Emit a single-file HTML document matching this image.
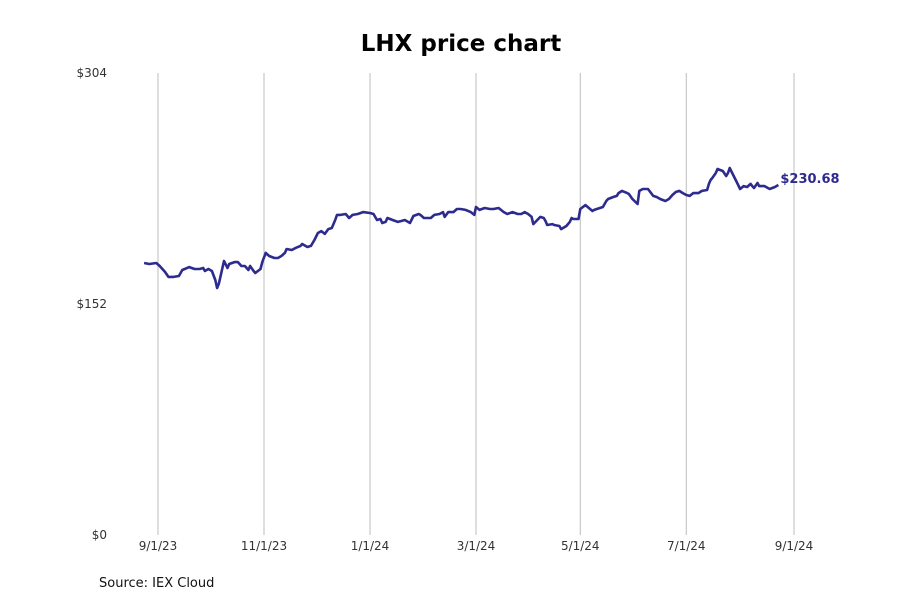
<!DOCTYPE html>
<html><head><meta charset="utf-8"><style>
body{margin:0;background:#fff;font-family:"Liberation Sans","DejaVu Sans",sans-serif}
svg text{font-family:"DejaVu Sans","Liberation Sans",sans-serif}
</style></head><body>
<svg id="chart" width="900" height="600">
<text x="461" y="51" text-anchor="middle" font-size="23" font-weight="bold" fill="#000">LHX price chart</text>
<text x="99" y="587" font-size="13" fill="#111">Source: IEX Cloud</text>
<g id="grid"></g><g id="yaxis"></g><g id="xaxis"></g><g id="series"></g>
</svg>
<script>
// days since 2023-09-01
const days=[-8,-5,-1,1,4,6,9,12,14,18,21,24,26,27,29,31,33,34,35,38,40,41,44,46,48,50,52,53,55,56,59,60,62,64,67,69,71,73,74,77,79,82,83,86,88,90,92,94,96,98,100,102,103,105,108,110,112,115,118,122,124,126,128,129,131,132,135,138,140,142,145,147,150,151,153,155,157,159,162,164,165,167,170,172,174,177,180,182,183,185,188,191,193,196,199,201,204,207,209,211,213,215,216,220,222,223,224,227,228,231,232,235,237,238,239,242,243,246,250,251,256,258,259,262,264,265,267,270,271,273,276,277,279,282,285,287,289,292,294,296,298,300,302,304,306,308,311,313,316,317,318,319,321,322,325,327,328,329,331,333,335,337,339,341,342,343,345,346,348,349,352,355,357];
const prices=[179.0,178.3,179.0,177.0,173.1,169.8,169.8,170.4,174.4,176.3,175.0,175.0,175.7,173.7,175.0,173.7,167.8,162.5,165.2,180.3,175.7,178.3,179.6,179.6,177.0,177.0,174.4,177.0,173.7,172.4,175.0,179.6,185.6,183.6,182.3,182.3,183.6,185.6,188.2,187.5,188.8,190.2,191.5,189.5,190.2,194.1,198.7,200.0,198.1,201.3,202.0,207.3,210.6,210.6,211.2,208.6,210.6,211.2,212.5,211.9,211.2,207.3,207.9,205.3,206.0,208.6,207.3,206.0,206.6,207.3,205.3,209.9,211.2,210.6,208.6,208.6,208.6,210.6,211.2,212.5,209.3,212.5,212.5,214.5,214.5,213.9,212.5,210.6,215.8,213.9,215.2,214.5,214.5,215.2,212.5,211.2,212.5,211.2,211.2,212.5,211.2,209.3,204.6,209.3,208.6,206.6,204.0,204.6,204.0,203.3,201.3,203.3,206.0,208.6,207.9,207.9,214.5,217.1,213.2,213.9,215.8,219.8,221.1,222.4,223.1,225.0,226.4,225.0,224.4,221.1,217.8,226.4,227.7,227.7,223.1,222.4,221.1,219.8,221.1,223.7,225.7,226.4,225.0,223.7,223.1,225.0,225.0,226.4,227.0,231.0,233.6,234.9,238.2,240.8,239.5,236.2,238.2,241.5,236.9,232.3,227.7,229.6,229.0,231.0,229.6,228.3,231.6,229.6,229.6,229.6,227.7,229.0,230.3,231.0,230.68];
const yTicks=[0,152,304];
const xTickDays=[0,61,122,183,243,304,366];
const xTickLabels=["9/1/23","11/1/23","1/1/24","3/1/24","5/1/24","7/1/24","9/1/24"];
const lastLabel="$230.68";

const NS="http://www.w3.org/2000/svg";
const X0=158,X1=794,Y0=535,Y1=73;
const xs=d=>X0+(X1-X0)*d/366;
const ys=v=>Y0-(Y0-Y1)*v/304;
function mk(tag,attrs,parent){const e=document.createElementNS(NS,tag);for(const k in attrs)e.setAttribute(k,attrs[k]);document.getElementById(parent).appendChild(e);return e;}
xTickDays.forEach((d,i)=>{
  const l=mk('line',{x1:xs(d),x2:xs(d),y1:Y1,y2:Y0,stroke:'#bdbdbd','stroke-width':1},'grid');
  
  
  const t=mk('text',{x:xs(d),y:550,'text-anchor':'middle','font-size':12,fill:'#333'},'xaxis');
  t.textContent=xTickLabels[i];
  
  
});
yTicks.forEach(v=>{
  const t=mk('text',{x:107,y:ys(v)+4,'text-anchor':'end','font-size':12,fill:'#333'},'yaxis');
  t.textContent='$'+v;
  
  
});
const pts=days.map((d,i)=>xs(d).toFixed(1)+','+ys(prices[i]).toFixed(1)).join(' ');
const pl=mk('polyline',{points:pts,fill:'none',stroke:'#2e2b8e','stroke-width':2.6,'stroke-linejoin':'round'},'series');


const n=days.length-1;
const lab=mk('text',{x:xs(days[n])+2,y:ys(prices[n])-2,'font-size':13,'font-weight':'bold',fill:'#2e2b8e'},'series');
lab.textContent=lastLabel;


</script>
</body></html>
